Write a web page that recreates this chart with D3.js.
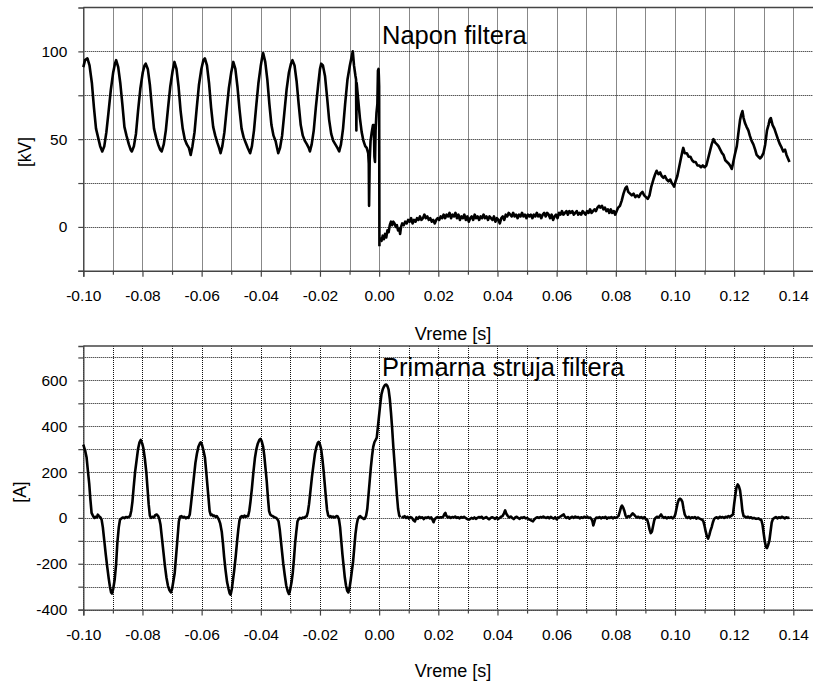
<!DOCTYPE html>
<html>
<head>
<meta charset="utf-8">
<script src="https://cdn.jsdelivr.net/npm/d3@7"></script>
<style>
  body { margin: 0; background: #fff; }
  svg text { font-family: "Liberation Sans", Arial, sans-serif; fill: #000; }
</style>
</head>
<body>
<svg id="chart" width="813" height="684"></svg>
<script>
// napon filtera [kV] - pre prekidanja (t, kV)
var naponPre = [
  [-0.1000, 91], [-0.0994, 95], [-0.0986, 96], [-0.0979, 92], [-0.0971, 82], [-0.0964, 68], [-0.0957, 56], [-0.0950, 51], [-0.0943, 46], [-0.0936, 43],
  [-0.0929, 46], [-0.0922, 54], [-0.0915, 65], [-0.0907, 78], [-0.0899, 88], [-0.0893, 93], [-0.0889, 95],
  [-0.0882, 91], [-0.0875, 82], [-0.0868, 70], [-0.0861, 57], [-0.0854, 52], [-0.0846, 47], [-0.0840, 44], [-0.0836, 43],
  [-0.0829, 46], [-0.0822, 53], [-0.0815, 66], [-0.0807, 79], [-0.0799, 88], [-0.0793, 92], [-0.0789, 93],
  [-0.0782, 90], [-0.0775, 81], [-0.0768, 68], [-0.0761, 56], [-0.0754, 51], [-0.0747, 47], [-0.0740, 44], [-0.0735, 43],
  [-0.0728, 47], [-0.0721, 55], [-0.0714, 67], [-0.0706, 80], [-0.0698, 89], [-0.0692, 94],
  [-0.0685, 90], [-0.0678, 80], [-0.0671, 66], [-0.0664, 56], [-0.0657, 50], [-0.0650, 47], [-0.0643, 45], [-0.0637, 41],
  [-0.0631, 46], [-0.0624, 54], [-0.0617, 67], [-0.0609, 81], [-0.0601, 90], [-0.0594, 95], [-0.0589, 96],
  [-0.0582, 92], [-0.0575, 82], [-0.0568, 68], [-0.0561, 57], [-0.0554, 52], [-0.0547, 48], [-0.0541, 45], [-0.0536, 42],
  [-0.0530, 46], [-0.0523, 54], [-0.0516, 66], [-0.0508, 79], [-0.0500, 88], [-0.0493, 94],
  [-0.0486, 90], [-0.0479, 80], [-0.0472, 67], [-0.0465, 56], [-0.0458, 51], [-0.0451, 48], [-0.0444, 45], [-0.0436, 42],
  [-0.0430, 46], [-0.0423, 55], [-0.0416, 68], [-0.0408, 82], [-0.0400, 92], [-0.0395, 97], [-0.0392, 99],
  [-0.0385, 94], [-0.0378, 84], [-0.0371, 70], [-0.0364, 58], [-0.0357, 52], [-0.0350, 49], [-0.0345, 45], [-0.0341, 42],
  [-0.0335, 45], [-0.0328, 52], [-0.0321, 64], [-0.0313, 78], [-0.0305, 88], [-0.0298, 93], [-0.0293, 95],
  [-0.0286, 92], [-0.0279, 83], [-0.0272, 70], [-0.0265, 58], [-0.0258, 52], [-0.0251, 49], [-0.0244, 47], [-0.0238, 45], [-0.0234, 43],
  [-0.0228, 47], [-0.0221, 55], [-0.0214, 68], [-0.0206, 81], [-0.0200, 90], [-0.0196, 93],
  [-0.0190, 92], [-0.0183, 86], [-0.0176, 74], [-0.0169, 61], [-0.0162, 53], [-0.0155, 49], [-0.0148, 47], [-0.0141, 45], [-0.0135, 43],
  [-0.0129, 47], [-0.0122, 56], [-0.0115, 70], [-0.0107, 84], [-0.0099, 92], [-0.0093, 97], [-0.0089, 100]
];

// prelazni proces oko t = 0
var naponPrelaz = [
  [-0.0085, 92], [-0.0080, 86], [-0.0078, 84], [-0.0077, 55], [-0.0076, 82], [-0.0071, 73], [-0.0065, 62], [-0.0059, 54],
  [-0.0053, 49], [-0.0047, 46], [-0.0042, 45], [-0.0037, 42], [-0.0035, 36], [-0.0034, 12], [-0.0032, 38], [-0.0029, 49],
  [-0.0025, 54], [-0.0021, 58], [-0.0018, 58], [-0.0016, 40], [-0.0014, 37], [-0.0012, 55], [-0.0009, 65], [-0.0006, 70],
  [-0.0004, 89], [-0.0002, 90], [-0.0001, 86], [0.0000, 80], [0.0001, -11]
];

// posle prekidanja
var naponPosle = [
  [0.0004, -6], [0.0008, -8], [0.0012, -5], [0.0016, -7], [0.0020, -4], [0.0024, -6], [0.0028, -2], [0.0032, -3], [0.0036, 1], [0.0040, 3],
  [0.0044, 1], [0.0048, 3], [0.0052, 2], [0.0056, 0], [0.0060, 1], [0.0064, -2], [0.0068, -1], [0.0071, -4], [0.0074, 0], [0.0078, 2],
  [0.0083, 1], [0.0088, 3], [0.0093, 2], [0.0098, 4], [0.0103, 3], [0.0108, 5], [0.0113, 2], [0.0118, 4], [0.0123, 3], [0.0128, 5],
  [0.0133, 4], [0.0138, 6], [0.0143, 4], [0.0148, 5], [0.0153, 7], [0.0158, 5], [0.0163, 6], [0.0168, 4], [0.0173, 5], [0.0178, 3],
  [0.0183, 4], [0.0188, 2], [0.0193, 4], [0.0198, 5], [0.0203, 4], [0.0208, 6], [0.0213, 5], [0.0218, 7], [0.0223, 5], [0.0228, 7],
  [0.0233, 6], [0.0238, 8], [0.0243, 5], [0.0248, 7], [0.0253, 6], [0.0258, 8], [0.0263, 5], [0.0268, 7], [0.0273, 4], [0.0278, 6],
  [0.0283, 5], [0.0288, 7], [0.0293, 4], [0.0298, 6], [0.0303, 3], [0.0308, 5], [0.0313, 6], [0.0318, 4], [0.0323, 7], [0.0328, 5],
  [0.0333, 6], [0.0338, 4], [0.0343, 6], [0.0348, 5], [0.0353, 7], [0.0358, 5], [0.0363, 6], [0.0368, 4], [0.0373, 6], [0.0378, 5],
  [0.0383, 4], [0.0388, 6], [0.0393, 3], [0.0398, 5], [0.0403, 4], [0.0408, 2], [0.0413, 5], [0.0418, 6], [0.0423, 4], [0.0428, 7],
  [0.0433, 6], [0.0438, 8], [0.0443, 7], [0.0448, 6], [0.0453, 8], [0.0458, 6], [0.0463, 7], [0.0468, 5], [0.0473, 7], [0.0478, 6],
  [0.0483, 8], [0.0488, 6], [0.0493, 7], [0.0498, 5], [0.0503, 7], [0.0508, 6], [0.0513, 7], [0.0518, 5], [0.0523, 7], [0.0528, 6],
  [0.0533, 8], [0.0538, 6], [0.0543, 7], [0.0548, 5], [0.0553, 7], [0.0558, 8], [0.0563, 6], [0.0568, 8], [0.0573, 7], [0.0578, 5],
  [0.0583, 7], [0.0588, 4], [0.0593, 6], [0.0598, 7], [0.0603, 5], [0.0608, 8], [0.0613, 7], [0.0618, 9], [0.0623, 7], [0.0628, 8],
  [0.0633, 9], [0.0638, 7], [0.0643, 9], [0.0648, 8], [0.0653, 9], [0.0658, 7], [0.0663, 8], [0.0668, 9], [0.0673, 7], [0.0678, 8],
  [0.0683, 7], [0.0688, 9], [0.0693, 8], [0.0698, 7], [0.0703, 9], [0.0708, 8], [0.0713, 10], [0.0718, 8], [0.0723, 9], [0.0728, 10],
  [0.0733, 9], [0.0738, 11], [0.0743, 12], [0.0748, 11], [0.0753, 12], [0.0758, 10], [0.0763, 11], [0.0768, 9], [0.0773, 10], [0.0778, 8],
  [0.0783, 10], [0.0788, 8], [0.0793, 9], [0.0798, 7], [0.0803, 9], [0.0808, 11], [0.0814, 12], [0.0820, 15], [0.0826, 19], [0.0832, 22],
  [0.0837, 23], [0.0842, 20], [0.0848, 19], [0.0854, 18], [0.0860, 19], [0.0866, 17], [0.0872, 18], [0.0878, 17], [0.0884, 19], [0.0890, 20],
  [0.0896, 18], [0.0902, 17], [0.0908, 16], [0.0914, 18], [0.0920, 23], [0.0927, 27], [0.0933, 30], [0.0938, 32], [0.0944, 30], [0.0950, 31],
  [0.0955, 29], [0.0961, 28], [0.0966, 29], [0.0972, 27], [0.0978, 26], [0.0984, 27], [0.0989, 25], [0.0994, 24], [0.0997, 23], [0.1002, 26],
  [0.1008, 29], [0.1014, 34], [0.1020, 39], [0.1025, 43], [0.1028, 45], [0.1033, 42], [0.1040, 42], [0.1046, 40], [0.1052, 40], [0.1058, 38],
  [0.1064, 37], [0.1070, 37], [0.1076, 35], [0.1082, 35], [0.1088, 34], [0.1094, 35], [0.1100, 34], [0.1106, 35], [0.1112, 39], [0.1118, 43],
  [0.1124, 47], [0.1130, 50], [0.1136, 48], [0.1142, 47], [0.1147, 46], [0.1153, 44], [0.1159, 42], [0.1164, 41], [0.1170, 38], [0.1176, 37],
  [0.1182, 36], [0.1186, 35], [0.1192, 33], [0.1196, 36], [0.1202, 41], [0.1209, 46], [0.1214, 53], [0.1220, 61], [0.1224, 64], [0.1228, 66],
  [0.1232, 62], [0.1237, 59], [0.1242, 57], [0.1248, 55], [0.1253, 52], [0.1259, 49], [0.1265, 47], [0.1271, 44], [0.1276, 41], [0.1282, 40],
  [0.1288, 39], [0.1293, 40], [0.1299, 42], [0.1305, 47], [0.1311, 55], [0.1316, 58], [0.1320, 61], [0.1324, 62], [0.1330, 58], [0.1336, 56],
  [0.1342, 53], [0.1348, 50], [0.1355, 47], [0.1361, 45], [0.1366, 43], [0.1372, 44], [0.1377, 41], [0.1382, 39], [0.1387, 37]
];

// primarna struja filtera [A] - pre prekidanja
var strujaPre = [
  [-0.1000, 320], [-0.0994, 295], [-0.0989, 265], [-0.0984, 200], [-0.0980, 150], [-0.0976, 80], [-0.0972, 22], [-0.0967, 8], [-0.0962, 0], [-0.0958, 5],
  [-0.0954, 2], [-0.0951, 14], [-0.0947, 8], [-0.0942, 2], [-0.0938, -8], [-0.0934, -40], [-0.0929, -100], [-0.0924, -160], [-0.0919, -215], [-0.0914, -265],
  [-0.0910, -300], [-0.0906, -325], [-0.0903, -330], [-0.0899, -310], [-0.0894, -270], [-0.0889, -200], [-0.0885, -110], [-0.0880, -40], [-0.0876, -8], [-0.0871, -2],
  [-0.0866, 2], [-0.0861, -1], [-0.0856, 4], [-0.0851, 2], [-0.0846, 5], [-0.0842, 8], [-0.0838, 30], [-0.0834, 70], [-0.0830, 130], [-0.0825, 200],
  [-0.0820, 250], [-0.0815, 300], [-0.0810, 330], [-0.0806, 340], [-0.0801, 325], [-0.0797, 305], [-0.0792, 260], [-0.0787, 200], [-0.0783, 130], [-0.0779, 60],
  [-0.0775, 10], [-0.0771, 0], [-0.0766, 5], [-0.0761, 2], [-0.0757, 12], [-0.0752, 15], [-0.0747, 8], [-0.0743, -5], [-0.0739, -30], [-0.0734, -90],
  [-0.0729, -150], [-0.0724, -210], [-0.0719, -260], [-0.0714, -295], [-0.0709, -315], [-0.0704, -325], [-0.0700, -310], [-0.0696, -280], [-0.0691, -240], [-0.0686, -160],
  [-0.0681, -80], [-0.0677, -15], [-0.0673, 5], [-0.0668, 8], [-0.0663, 2], [-0.0658, 5], [-0.0653, -2], [-0.0649, 3], [-0.0645, 0], [-0.0640, 15],
  [-0.0636, 60], [-0.0631, 120], [-0.0626, 180], [-0.0621, 240], [-0.0616, 280], [-0.0611, 310], [-0.0606, 325], [-0.0603, 330], [-0.0599, 320], [-0.0594, 295],
  [-0.0589, 265], [-0.0585, 210], [-0.0581, 150], [-0.0577, 90], [-0.0573, 30], [-0.0569, 12], [-0.0565, 15], [-0.0561, 8], [-0.0557, 10], [-0.0553, 5],
  [-0.0549, 8], [-0.0545, 0], [-0.0541, -10], [-0.0537, -25], [-0.0532, -60], [-0.0528, -110], [-0.0524, -170], [-0.0519, -230], [-0.0514, -280], [-0.0509, -310],
  [-0.0505, -330], [-0.0502, -335], [-0.0498, -310], [-0.0494, -270], [-0.0490, -230], [-0.0485, -170], [-0.0480, -100], [-0.0476, -50], [-0.0472, -10], [-0.0468, 5],
  [-0.0464, 8], [-0.0459, 3], [-0.0455, 10], [-0.0451, 5], [-0.0447, 8], [-0.0443, 7], [-0.0439, 30], [-0.0435, 70], [-0.0430, 130], [-0.0425, 200],
  [-0.0420, 260], [-0.0415, 300], [-0.0410, 325], [-0.0405, 340], [-0.0401, 345], [-0.0397, 335], [-0.0392, 310], [-0.0388, 270], [-0.0384, 215], [-0.0380, 160],
  [-0.0376, 90], [-0.0372, 30], [-0.0368, 15], [-0.0364, 10], [-0.0360, 8], [-0.0356, 5], [-0.0352, 2], [-0.0348, 0], [-0.0344, -5], [-0.0340, -15],
  [-0.0336, -50], [-0.0332, -100], [-0.0328, -150], [-0.0324, -200], [-0.0319, -250], [-0.0314, -295], [-0.0309, -320], [-0.0305, -332], [-0.0301, -315], [-0.0296, -280],
  [-0.0292, -240], [-0.0288, -180], [-0.0284, -110], [-0.0280, -60], [-0.0276, -15], [-0.0272, -5], [-0.0268, 0], [-0.0263, -3], [-0.0258, 2], [-0.0253, 0],
  [-0.0249, 5], [-0.0245, 7], [-0.0241, 25], [-0.0237, 60], [-0.0232, 120], [-0.0227, 180], [-0.0222, 230], [-0.0217, 280], [-0.0212, 310], [-0.0207, 328],
  [-0.0204, 332], [-0.0200, 320], [-0.0196, 300], [-0.0192, 260], [-0.0188, 210], [-0.0184, 150], [-0.0180, 90], [-0.0176, 35], [-0.0172, 10], [-0.0168, 5],
  [-0.0164, 8], [-0.0160, 3], [-0.0156, 6], [-0.0152, 2], [-0.0148, 5], [-0.0144, 8], [-0.0140, 6], [-0.0136, -5], [-0.0132, -40], [-0.0128, -100],
  [-0.0124, -160], [-0.0120, -210], [-0.0116, -260], [-0.0112, -295], [-0.0108, -318], [-0.0104, -325], [-0.0100, -305], [-0.0096, -270], [-0.0092, -230], [-0.0088, -190],
  [-0.0084, -130], [-0.0080, -70], [-0.0076, -30], [-0.0072, -5], [-0.0068, 5], [-0.0064, 8], [-0.0060, 2], [-0.0056, 0], [-0.0052, -5], [-0.0048, -3],
  [-0.0044, 10], [-0.0040, 40], [-0.0036, 100], [-0.0032, 160], [-0.0028, 220], [-0.0024, 270], [-0.0020, 310], [-0.0016, 330], [-0.0012, 340], [-0.0008, 350],
  [-0.0004, 400], [0.0000, 450], [0.0004, 500], [0.0008, 540], [0.0012, 560], [0.0016, 572], [0.0020, 580], [0.0024, 582], [0.0028, 575], [0.0032, 560],
  [0.0036, 520], [0.0040, 460], [0.0044, 390], [0.0048, 310], [0.0052, 240], [0.0056, 170], [0.0060, 100], [0.0064, 40], [0.0068, 10], [0.0072, 3]
];

// posle prekidanja
var strujaPosle = [
  [0.0076, 6], [0.0081, 2], [0.0086, 8], [0.0091, 0], [0.0096, 5], [0.0101, -3], [0.0106, 4], [0.0111, 0], [0.0116, -10], [0.0121, -15],
  [0.0126, 2], [0.0131, -4], [0.0136, 5], [0.0141, 0], [0.0146, 3], [0.0151, -5], [0.0156, 2], [0.0161, 0], [0.0166, 4], [0.0171, -2],
  [0.0176, 2], [0.0181, -10], [0.0184, -19], [0.0187, -8], [0.0192, 0], [0.0197, 4], [0.0202, 0], [0.0207, 3], [0.0212, 2], [0.0217, 6],
  [0.0221, 18], [0.0224, 22], [0.0227, 10], [0.0232, 2], [0.0237, 5], [0.0242, 0], [0.0247, 4], [0.0252, 2], [0.0257, 6], [0.0262, 0],
  [0.0267, 3], [0.0272, -2], [0.0277, 4], [0.0282, 1], [0.0287, 5], [0.0292, 0], [0.0297, -4], [0.0302, -8], [0.0307, -5], [0.0312, 0],
  [0.0317, -3], [0.0322, 2], [0.0327, -4], [0.0332, 0], [0.0337, 4], [0.0342, 2], [0.0347, 5], [0.0352, -3], [0.0357, 0], [0.0362, 4],
  [0.0367, -2], [0.0372, -6], [0.0377, 0], [0.0382, 3], [0.0387, 0], [0.0392, -4], [0.0397, 2], [0.0402, -5], [0.0407, 0], [0.0412, 5],
  [0.0417, 8], [0.0422, 20], [0.0426, 33], [0.0430, 18], [0.0435, 8], [0.0440, 2], [0.0445, 6], [0.0450, 0], [0.0455, -5], [0.0460, 2],
  [0.0465, 5], [0.0470, 0], [0.0475, -4], [0.0480, 2], [0.0485, 0], [0.0490, 4], [0.0495, -2], [0.0500, 0], [0.0505, -5], [0.0510, -8],
  [0.0515, -12], [0.0520, -15], [0.0525, -6], [0.0530, 0], [0.0535, 3], [0.0540, 0], [0.0545, 4], [0.0550, 2], [0.0555, 6], [0.0560, 2],
  [0.0565, 0], [0.0570, 4], [0.0575, -2], [0.0580, 5], [0.0585, 0], [0.0590, -3], [0.0595, 3], [0.0600, -6], [0.0605, 0], [0.0610, 4],
  [0.0615, 8], [0.0620, 12], [0.0624, 15], [0.0628, 5], [0.0633, 0], [0.0638, 4], [0.0643, -3], [0.0648, 2], [0.0653, 5], [0.0658, 0],
  [0.0663, 6], [0.0668, 2], [0.0673, 4], [0.0678, -2], [0.0683, 3], [0.0688, 0], [0.0693, 5], [0.0698, 2], [0.0703, 6], [0.0708, 0],
  [0.0713, 2], [0.0718, -5], [0.0721, -15], [0.0724, -33], [0.0727, -20], [0.0730, -5], [0.0735, 2], [0.0740, 0], [0.0745, 4], [0.0750, -2],
  [0.0755, 3], [0.0760, 0], [0.0765, 5], [0.0770, -3], [0.0775, 2], [0.0780, 0], [0.0785, 4], [0.0790, -2], [0.0795, 3], [0.0800, 0],
  [0.0805, 4], [0.0809, 8], [0.0814, 30], [0.0818, 48], [0.0821, 54], [0.0825, 45], [0.0829, 30], [0.0833, 10], [0.0837, 2], [0.0842, 8],
  [0.0847, 5], [0.0852, 12], [0.0857, 20], [0.0861, 15], [0.0866, 8], [0.0871, 2], [0.0876, 5], [0.0881, 0], [0.0886, 4], [0.0891, -2],
  [0.0896, 3], [0.0901, -4], [0.0906, -8], [0.0910, -25], [0.0914, -50], [0.0918, -66], [0.0922, -60], [0.0926, -35], [0.0930, -10], [0.0934, 0],
  [0.0939, 5], [0.0944, 2], [0.0949, 8], [0.0953, 15], [0.0957, 6], [0.0962, 0], [0.0967, 4], [0.0972, -2], [0.0977, 3], [0.0982, 0],
  [0.0987, 4], [0.0992, -2], [0.0997, 3], [0.1001, 15], [0.1005, 40], [0.1009, 65], [0.1013, 80], [0.1017, 84], [0.1021, 80], [0.1025, 70],
  [0.1029, 40], [0.1033, 15], [0.1037, 5], [0.1042, 0], [0.1047, 5], [0.1052, -2], [0.1057, 3], [0.1062, 0], [0.1067, 4], [0.1072, -3],
  [0.1077, 2], [0.1082, -2], [0.1087, -5], [0.1092, -8], [0.1096, -15], [0.1100, -35], [0.1104, -60], [0.1108, -80], [0.1112, -90], [0.1116, -75],
  [0.1120, -55], [0.1124, -40], [0.1128, -20], [0.1132, -5], [0.1136, 0], [0.1141, 3], [0.1146, -2], [0.1151, 5], [0.1156, 2], [0.1161, 4],
  [0.1166, 0], [0.1171, 5], [0.1176, 3], [0.1181, 8], [0.1186, 5], [0.1191, 10], [0.1196, 15], [0.1200, 60], [0.1204, 100], [0.1208, 135],
  [0.1212, 146], [0.1216, 138], [0.1220, 120], [0.1224, 80], [0.1228, 30], [0.1232, 8], [0.1237, 5], [0.1242, 2], [0.1247, 5], [0.1252, 0],
  [0.1257, 3], [0.1262, -2], [0.1267, 0], [0.1272, -3], [0.1277, -4], [0.1282, -2], [0.1287, -6], [0.1292, -10], [0.1296, -30], [0.1300, -70],
  [0.1304, -105], [0.1308, -128], [0.1311, -132], [0.1315, -118], [0.1319, -100], [0.1323, -60], [0.1327, -20], [0.1331, -5], [0.1336, 0], [0.1341, 4],
  [0.1346, -2], [0.1351, 3], [0.1356, 0], [0.1361, 5], [0.1366, 2], [0.1371, -2], [0.1376, 3], [0.1381, 0], [0.1387, 2]
];

// oznake osa
var xMajorTicks = [-0.10, -0.08, -0.06, -0.04, -0.02, 0.00, 0.02, 0.04, 0.06, 0.08, 0.10, 0.12, 0.14];
var xMinorTicks = [-0.09, -0.07, -0.05, -0.03, -0.01, 0.01, 0.03, 0.05, 0.07, 0.09, 0.11, 0.13];
var kvMajorTicks = [0, 50, 100];
var kvMinorTicks = [-25, 25, 75];
var aMajorTicks = [-400, -200, 0, 200, 400, 600];
var aMinorTicks = [-300, -100, 100, 300, 500, 700];

var svg = d3.select("#chart");
var W = 813;

var x = d3.scaleLinear().domain([-0.10, 0.15]).range([83.3, 822.9]);

var panels = [
  {
    data: [naponPre.concat(naponPrelaz), naponPosle],
    top: 7.5, bottom: 270.8, domain: [-25, 125],
    major: kvMajorTicks, minor: kvMinorTicks,
    title: "Napon filtera", titleY: 43.5,
    yLabel: "[kV]", yLabelX: 31, yLabelY: 152,
    xTitleY: 339.5
  },
  {
    data: [strujaPre, strujaPosle],
    top: 346, bottom: 609.6, domain: [-400, 750],
    major: aMajorTicks, minor: aMinorTicks,
    title: "Primarna struja filtera", titleY: 375.5,
    yLabel: "[A]", yLabelX: 26, yLabelY: 492,
    xTitleY: 677
  }
];

panels.forEach(function(p){
  var y = d3.scaleLinear().domain(p.domain).range([p.bottom, p.top]);
  var g = svg.append("g").attr("class", "panel");

  // mreza - tackaste linije
  var grid = g.append("g").attr("class", "grid")
    .attr("stroke", "#111")
    .attr("stroke-width", 1)
    .attr("stroke-dasharray", "1,1");

  grid.selectAll("line.gx")
    .data(xMajorTicks.concat(xMinorTicks))
    .enter()
    .append("line")
    .attr("class", "gx")
    .attr("x1", function(d){ return Math.round(x(d)) + 0.5; })
    .attr("x2", function(d){ return Math.round(x(d)) + 0.5; })
    .attr("y1", p.top)
    .attr("y2", p.bottom);

  grid.selectAll("line.gy")
    .data(p.major.concat(p.minor))
    .enter()
    .append("line")
    .attr("class", "gy")
    .attr("x1", x.range()[0])
    .attr("x2", W)
    .attr("y1", function(d){ return Math.round(y(d)) + 0.5; })
    .attr("y2", function(d){ return Math.round(y(d)) + 0.5; });

  // gornja linija okvira
  g.append("line")
    .attr("x1", x.range()[0]).attr("x2", W)
    .attr("y1", p.top).attr("y2", p.top)
    .attr("stroke", "#444").attr("stroke-width", 1.4);

  // x osa
  g.append("g")
    .attr("transform", "translate(0," + p.bottom + ")")
    .call(d3.axisBottom(x).tickValues(xMajorTicks).tickSize(6).tickPadding(13)
      .tickFormat(function(d){ return d.toFixed(2); }));
  g.append("g")
    .attr("transform", "translate(0," + p.bottom + ")")
    .call(d3.axisBottom(x).tickValues(xMinorTicks).tickSize(4).tickFormat(""))
    .select(".domain").remove();

  // y osa
  g.append("g")
    .attr("transform", "translate(" + x.range()[0] + ",0)")
    .call(d3.axisLeft(y).tickValues(p.major).tickSize(5).tickPadding(11)
      .tickFormat(function(d){ return String(d); }));
  g.append("g")
    .attr("transform", "translate(" + x.range()[0] + ",0)")
    .call(d3.axisLeft(y).tickValues(p.minor).tickSize(5).tickFormat(""))
    .select(".domain").remove();

  g.selectAll(".domain").attr("stroke", "#444").attr("stroke-width", 1.4);
  g.selectAll(".tick line").attr("stroke", "#444").attr("stroke-width", 1.2);
  g.selectAll(".tick text")
    .attr("font-family", "Liberation Sans, Arial, sans-serif")
    .attr("font-size", 15.5)
    .attr("fill", "#000");

  // kriva
  var line = d3.line()
    .x(function(d){ return x(d[0]); })
    .y(function(d){ return y(d[1]); });

  g.selectAll("path.trace")
    .data(p.data)
    .enter()
    .append("path")
    .attr("class", "trace")
    .attr("d", line)
    .attr("fill", "none")
    .attr("stroke", "#000")
    .attr("stroke-width", 2.6)
    .attr("stroke-linejoin", "round");

  // naslovi
  g.append("text")
    .attr("x", 382)
    .attr("y", p.titleY)
    .attr("font-size", 25.5)
    .text(p.title);

  g.append("text")
    .attr("x", 453)
    .attr("y", p.xTitleY)
    .attr("text-anchor", "middle")
    .attr("font-size", 18)
    .text("Vreme [s]");

  g.append("text")
    .attr("transform", "translate(" + p.yLabelX + "," + p.yLabelY + ") rotate(-90)")
    .attr("text-anchor", "middle")
    .attr("font-size", 17.5)
    .text(p.yLabel);
});
</script>
</body>
</html>
